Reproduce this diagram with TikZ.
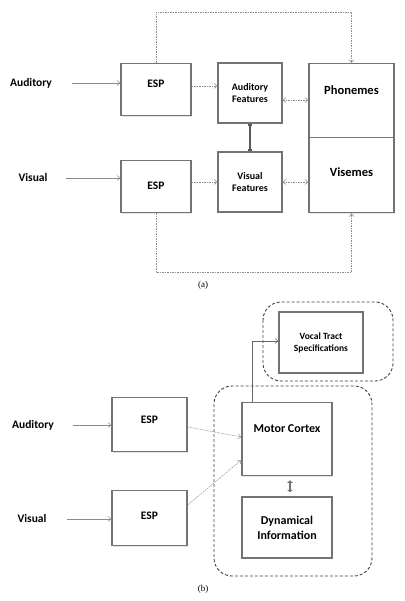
\documentclass[tikz,border=0pt]{standalone}
\usepackage{fontspec}
\setmainfont{Liberation Serif}
\newfontfamily\lab{Carlito}
\usetikzlibrary{arrows.meta,shadows}
\tikzset{
  box/.style={draw=black!55, line width=1.3pt, fill=white, inner sep=0pt, align=center,
    font=\lab\bfseries, drop shadow={opacity=.2,shadow xshift=1pt,shadow yshift=-1pt}},
  inp/.style={font=\lab\bfseries\fontsize{11.5}{13}\selectfont},
  feed/.style={draw=black!45, line width=.5pt, -{Straight Barb[length=3pt,width=5pt]}},
  dfeed/.style={feed, dash pattern=on 1.5pt off 1pt},
  group/.style={draw=black!75, line width=.9pt, dash pattern=on 3pt off 2pt, rounded corners=18pt},
}
\begin{document}
\begin{tikzpicture}[x=1pt,y=-1pt]
\useasboundingbox (0,0) rectangle (404,601);
% (a)
\node[inp] (audA) at (31,83) {Auditory};
\node[inp] (visA) at (33,178) {Visual};
\node[box, anchor=north, minimum width=70pt, text height=24pt, text depth=28pt,
  font=\lab\bfseries\fontsize{11.5}{13}\selectfont] (espA) at (156,63) {ESP};
\node[box, anchor=north, minimum width=70pt, text height=29pt, text depth=23pt,
  font=\lab\bfseries\fontsize{11.5}{13}\selectfont] (espV) at (156,160) {ESP};
\node[box, minimum width=64pt, minimum height=60pt, font=\lab\bfseries\fontsize{10}{12.5}\selectfont]
  (audF) at (250,93) {Auditory\\Features};
\node[box, minimum width=64pt, minimum height=60pt, font=\lab\bfseries\fontsize{10}{12.5}\selectfont]
  (visF) at (250,182) {Visual\\Features};
\node[box, anchor=north, minimum width=85pt, text height=31pt, text depth=43pt,
  font=\lab\bfseries\fontsize{12.5}{14}\selectfont] (phon) at (351.5,63) {Phonemes};
\node[box, anchor=north, minimum width=85pt, text height=39pt, text depth=36pt,
  font=\lab\bfseries\fontsize{12.5}{14}\selectfont] (vism) at (351.5,137) {Visemes};
\draw[feed, shorten <=17pt] (audA.east) -- (espA.west |- audA.east);
\draw[feed, shorten <=15pt] (visA.east) -- (espV.west |- visA.east);
\draw[dfeed] (espA.east |- 0,86) -- (audF.west |- 0,86);
\draw[dfeed] (espV.east |- 0,182) -- (visF.west |- 0,182);
\draw[dfeed, {Straight Barb[length=3pt,width=5pt]}-{Straight Barb[length=3pt,width=5pt]}]
  (audF.east |- 0,100) -- (phon.west |- 0,100);
\draw[dfeed, {Straight Barb[length=3pt,width=5pt]}-{Straight Barb[length=3pt,width=5pt]}]
  (visF.east) -- (vism.west |- visF.east);
\draw[black!65, line width=2.5pt, {Bar[width=4pt]}-{Bar[width=4pt]}] (audF.south) -- (visF.north);
\draw[dfeed] (espA.north) -- ++(0,-51) -| (phon.north);
\draw[dfeed] (espV.south) -- ++(0,59) -| (vism.south);
\node (capA) at (203,285) {\fontsize{9}{11}\selectfont(a)};
% (b)
\node[box, minimum width=84pt, minimum height=61pt, font=\lab\bfseries\fontsize{9.5}{12}\selectfont]
  (vts) at (321,342.5) {Vocal Tract\\Specifications};
\node[inp] (audB) at (33,425) {Auditory};
\node[inp] (visB) at (32,519) {Visual};
\node[box, anchor=north, minimum width=75pt, text height=26pt, text depth=28pt,
  font=\lab\bfseries\fontsize{11.5}{13}\selectfont] (espB) at (149.5,397) {ESP};
\node[box, anchor=north, minimum width=75pt, text height=29pt, text depth=26pt,
  font=\lab\bfseries\fontsize{11.5}{13}\selectfont] (espW) at (149.5,490) {ESP};
\node[box, anchor=north, minimum width=90pt, text height=30pt, text depth=43pt,
  font=\lab\bfseries\fontsize{12}{14}\selectfont] (motor) at (287,402) {Motor Cortex};
\node[box, minimum width=90pt, minimum height=61pt, font=\lab\bfseries\fontsize{12}{15}\selectfont]
  (dyn) at (287,527.5) {Dynamical\\Information};
\draw[group] (263,302) rectangle (393,381);
\draw[group] (214,386) rectangle (372,576);
\draw[feed, shorten <=16pt] (audB.east) -- (espB.west |- audB.east);
\draw[feed, shorten <=17pt] (visB.east) -- (espW.west |- visB.east);
\draw[dfeed] (espB.east |- 0,427) -- (motor.west |- 0,437);
\draw[dfeed] (espW.east |- 0,505) -- (motor.west |- 0,460);
\draw[feed, draw=black!60] (motor.north -| 252,0) |- (vts.west |- 0,341);
\draw[black!55, line width=2.2pt, {Triangle[length=2.5pt,width=5.5pt]}-{Triangle[length=2.5pt,width=5.5pt]}]
  ([yshift=-4pt]motor.south -| 290,0) -- ([yshift=4pt]dyn.north -| 290,0);
\node (capB) at (203,589) {\fontsize{9}{11}\selectfont(b)};
\end{tikzpicture}
\end{document}
